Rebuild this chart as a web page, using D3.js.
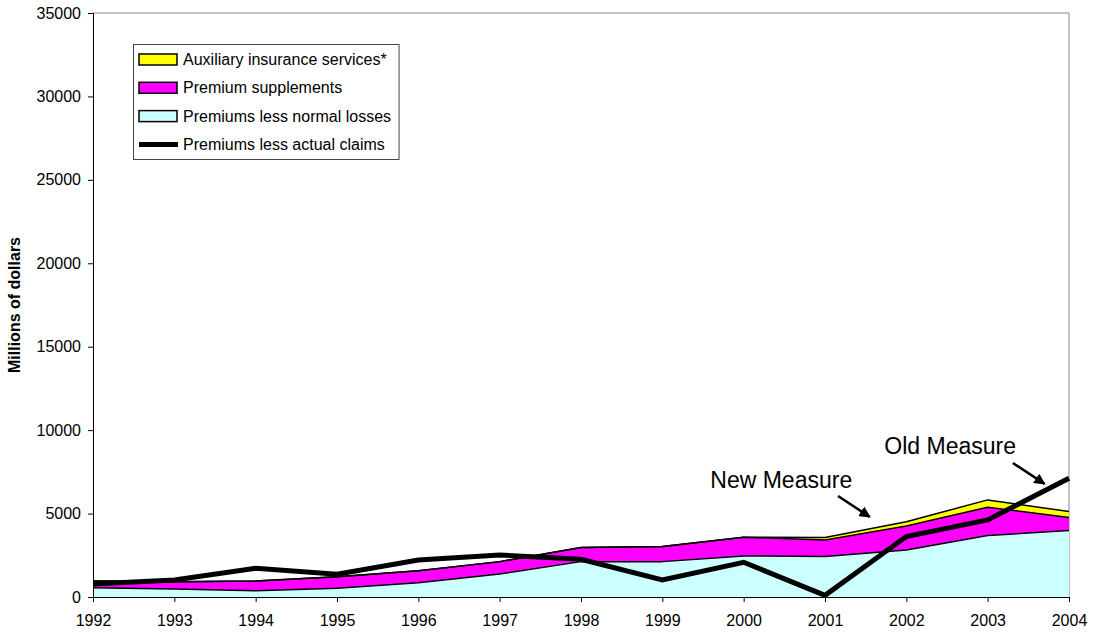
<!DOCTYPE html>
<html>
<head>
<meta charset="utf-8">
<script src="https://cdn.jsdelivr.net/npm/d3@7"></script>
<style>
  html, body { margin: 0; padding: 0; background: #fff; }
  svg { display: block; font-family: Arial, "Liberation Sans", sans-serif; }
</style>
</head>
<body>
<svg id="chart" width="1094" height="635"></svg>
<script>
// ---- data ----
const years = [1992, 1993, 1994, 1995, 1996, 1997, 1998, 1999, 2000, 2001, 2002, 2003, 2004];
const normalLosses = [560, 480, 380, 520, 860, 1380, 2120, 2120, 2460, 2420, 2820, 3680, 3980];
const supplements  = [400, 440, 580, 700, 720, 740, 840, 900, 1120, 1000, 1440, 1700, 780];
const auxiliary    = [0, 0, 0, 0, 0, 0, 0, 0, 0, 150, 250, 440, 360];
const actualClaims = [780, 1020, 1720, 1360, 2220, 2520, 2260, 1020, 2080, 100, 3620, 4620, 7120];
const yTicks = [0, 5000, 10000, 15000, 20000, 25000, 30000, 35000];
const legendLabels = ["Auxiliary insurance services*", "Premium supplements", "Premiums less normal losses", "Premiums less actual claims"];
const yTitle = "Millions of dollars";
const annotations = [
  {text: "New Measure", tx: 1999.59, ty: 6530, ax1: 2001.16, ay1: 6050, ax2: 2001.55, ay2: 4800},
  {text: "Old Measure", tx: 2001.73, ty: 8570, ax1: 2003.31, ay1: 8030, ax2: 2003.70, ay2: 6780}
];

// ---- layout ----
const svg = d3.select("#chart");
const L = 93, R = 1069, T = 13, B = 597;
const x = d3.scaleLinear().domain([1992, 2004]).range([L, R]);
const y = d3.scaleLinear().domain([0, 35000]).range([B, T]);

// plot border (top/right grey)
svg.append("path")
  .attr("d", `M${L},${T}H${R}V${B}`)
  .attr("fill", "none").attr("stroke", "#888").attr("stroke-width", 1);

// stacked areas
const rows = years.map((yr, i) => ({year: yr, normal: normalLosses[i], supp: supplements[i], aux: auxiliary[i]}));
const stack = d3.stack().keys(["normal", "supp", "aux"]);
const series = stack(rows);
const fills = {normal: "#CCFFFF", supp: "#FF00FF", aux: "#FFFF00"};
const area = d3.area()
  .x((d, i) => x(years[i]))
  .y0(d => y(d[0]))
  .y1(d => y(d[1]));
const topLine = d3.line().x((d, i) => x(years[i])).y(d => y(d[1]));

[...series].reverse().forEach(s => {
  svg.append("path").attr("d", area(s)).attr("fill", fills[s.key]).attr("stroke", "none");
});
series.forEach(s => {
  svg.append("path").attr("d", topLine(s)).attr("fill", "none")
    .attr("stroke", "#000").attr("stroke-width", 1.5).attr("stroke-linejoin", "round");
});

// actual claims line
const claimLine = d3.line().x((d, i) => x(years[i])).y(d => y(d));
svg.append("path").attr("d", claimLine(actualClaims))
  .attr("fill", "none").attr("stroke", "#000").attr("stroke-width", 5)
  .attr("stroke-linejoin", "miter");

// axes
const yAxis = d3.axisLeft(y).tickValues(yTicks).tickSize(5).tickPadding(7).tickFormat(d3.format("d"));
const gy = svg.append("g").attr("transform", `translate(${L},0)`).call(yAxis);
gy.select(".domain").attr("stroke", "#000");
gy.selectAll("text").attr("font-size", 16).attr("fill", "#000").attr("font-family", "Arial, 'Liberation Sans', sans-serif");

const xAxis = d3.axisBottom(x).tickValues(years).tickSize(5).tickPadding(13).tickFormat(d3.format("d"));
const gx = svg.append("g").attr("transform", `translate(0,${B})`).call(xAxis);
gx.select(".domain").attr("stroke", "#000");
gx.selectAll("text").attr("font-size", 16).attr("fill", "#000").attr("font-family", "Arial, 'Liberation Sans', sans-serif");

// y title
svg.append("text")
  .attr("transform", `translate(20,${(T + B) / 2}) rotate(-90)`)
  .attr("text-anchor", "middle")
  .attr("font-size", 16).attr("font-weight", "bold")
  .text(yTitle);

// legend
const lg = svg.append("g");
const lx = 133.5, ly = 44.5, rowH = 28.3;
const legendFont = 16;
const items = legendLabels.map((lab, i) => ({lab, kind: i < 3 ? "box" : "line", fill: [fills.aux, fills.supp, fills.normal][i]}));
const txtG = lg.append("g");
items.forEach((it, i) => {
  const cy = ly + 15 + i * rowH;
  if (it.kind === "box") {
    lg.append("rect").attr("x", 139).attr("y", cy - 5.5).attr("width", 38).attr("height", 11)
      .attr("fill", it.fill).attr("stroke", "#000").attr("stroke-width", 1.5);
  } else {
    lg.append("line").attr("x1", 139).attr("x2", 178).attr("y1", cy).attr("y2", cy)
      .attr("stroke", "#000").attr("stroke-width", 5);
  }
  txtG.append("text").attr("x", 183).attr("y", cy).attr("dy", "0.35em")
    .attr("font-size", legendFont).text(it.lab);
});
const bb = txtG.node().getBBox();
lg.insert("rect", ":first-child")
  .attr("x", lx).attr("y", ly).attr("width", bb.x + bb.width + 8 - lx).attr("height", 115)
  .attr("fill", "#fff").attr("stroke", "#444").attr("stroke-width", 1);

// annotations with arrows
const defs = svg.append("defs");
defs.append("marker").attr("id", "arrow").attr("viewBox", "0 0 10 10")
  .attr("refX", 9).attr("refY", 5).attr("markerWidth", 4.5).attr("markerHeight", 4.5)
  .attr("orient", "auto").attr("markerUnits", "strokeWidth")
  .append("path").attr("d", "M0,0L10,5L0,10z").attr("fill", "#000");
annotations.forEach(a => {
  svg.append("text").attr("x", x(a.tx)).attr("y", y(a.ty)).attr("font-size", 23).text(a.text);
  svg.append("line").attr("x1", x(a.ax1)).attr("y1", y(a.ay1)).attr("x2", x(a.ax2)).attr("y2", y(a.ay2))
    .attr("stroke", "#000").attr("stroke-width", 2.5).attr("marker-end", "url(#arrow)");
});
</script>
</body>
</html>
